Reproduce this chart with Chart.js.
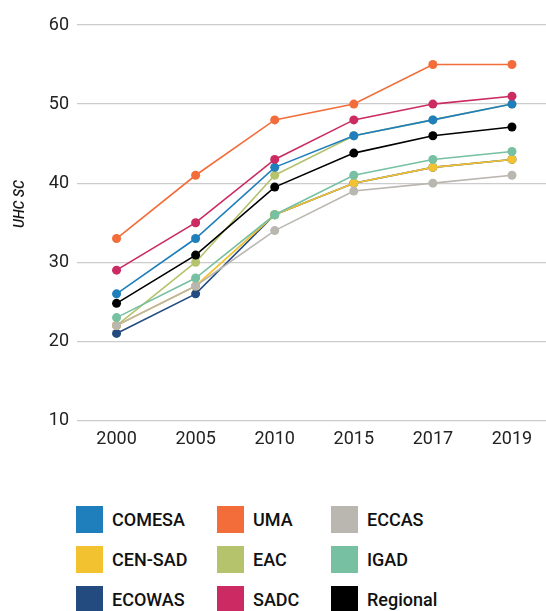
<!DOCTYPE html>
<html>
<head>
<meta charset="utf-8">
<script src="https://cdn.jsdelivr.net/npm/chart.js@4"></script>
<style>
  html, body { margin: 0; padding: 0; background: #fff; overflow: hidden; }
  body { width: 546px; height: 611px; position: relative; font-family: Roboto, sans-serif; }
  #wrap { position: absolute; left: 0; top: 0; width: 556px; height: 470px; }
  #ytitle { position: absolute; left: 19px; top: 204px; transform: translate(-50%, -50%) rotate(-90deg);
    font-size: 14px; font-style: italic; font-weight: 500; color: #111; white-space: nowrap; }
  .leg { position: absolute; font-size: 18px; font-weight: 500; color: #111; line-height: 27px; }
  .leg span { position: absolute; left: 0; top: 0; width: 27px; height: 27px; }
  .leg b { font-weight: 500; position: absolute; left: 36px; white-space: nowrap; }
</style>
</head>
<body>
<div id="wrap"><canvas id="chart"></canvas></div>
<div id="ytitle">UHC SC</div>
<div id="legend"></div>
<script>
// Years on the x axis
const years = ['2000', '2005', '2010', '2015', '2017', '2019'];
const yTicks = [10, 20, 30, 40, 50, 60];

// UHC service coverage index by region
const comesa = [26, 33, 42, 46, 48, 50];
const uma = [33, 41, 48, 50, 55, 55];
const eccas = [22, 27, 34, 39, 40, 41];
const censad = [22, 27, 36, 40, 42, 43];
const eac = [22, 30, 41, 46, 48, 50];
const igad = [23, 28, 36, 41, 43, 44];
const ecowas = [21, 26, 36, 40, 42, 43];
const sadc = [29, 35, 43, 48, 50, 51];
const regional = [24.8, 30.9, 39.5, 43.8, 46, 47.1];

// legend order (three columns), draw order via "order" (lower = on top)
const series = [
    { label: 'COMESA', data: comesa, color: '#1f7fbd', order: 2 },
    { label: 'CEN-SAD', data: censad, color: '#f2c230', order: 6 },
    { label: 'ECOWAS', data: ecowas, color: '#234b7f', order: 8 },
    { label: 'UMA', data: uma, color: '#f26d3a', order: 3 },
    { label: 'EAC', data: eac, color: '#b5c36c', order: 7 },
    { label: 'SADC', data: sadc, color: '#cc2a62', order: 1 },
    { label: 'ECCAS', data: eccas, color: '#bab6b0', order: 5 },
    { label: 'IGAD', data: igad, color: '#77c0a2', order: 4 },
    { label: 'Regional', data: regional, color: '#000000', order: 0 },
];

const ctx = document.getElementById('chart').getContext('2d');
const chart = new Chart(ctx, {
    type: 'line',
    data: {
        labels: years,
        datasets: series.map(s => ({
            label: s.label,
            data: s.data,
            order: s.order,
            borderColor: s.color,
            backgroundColor: s.color,
            pointBackgroundColor: s.color,
            pointBorderWidth: 0,
            pointRadius: 4.5,
            borderWidth: 1.6,
            tension: 0,
        }))
    },
    options: {
        responsive: true,
        maintainAspectRatio: false,
        animation: false,
        layout: { padding: { top: 25, bottom: 12, left: 0, right: 0 } },
        scales: {
            x: {
                offset: true,
                grid: { display: false, drawTicks: false },
                border: { display: false },
                ticks: { color: '#222', font: { family: 'Roboto', size: 18 }, padding: 8 }
            },
            y: {
                min: 10,
                max: 60,
                afterBuildTicks: s => { s.ticks = yTicks.map(v => ({ value: v })); },
                afterFit: s => { s.width = 77; },
                grid: { color: '#cccccc', lineWidth: 1.3, drawTicks: false },
                border: { display: false },
                ticks: { color: '#222', font: { family: 'Roboto', size: 18 }, padding: 8 }
            }
        },
        plugins: {
            legend: { display: false },
            tooltip: { enabled: false }
        }
    }
});

// HTML legend, 3 columns x 3 rows
const legendEl = document.getElementById('legend');
const colX = [76, 217, 331];
const rowY = [506, 546, 586];
series.forEach((s, i) => {
    const col = Math.floor(i / 3), row = i % 3;
    const item = document.createElement('div');
    item.className = 'leg';
    item.style.left = colX[col] + 'px';
    item.style.top = rowY[row] + 'px';
    item.innerHTML = '<span style="background:' + s.color + '"></span><b>' + s.label + '</b>';
    legendEl.appendChild(item);
});
</script>
</body>
</html>
